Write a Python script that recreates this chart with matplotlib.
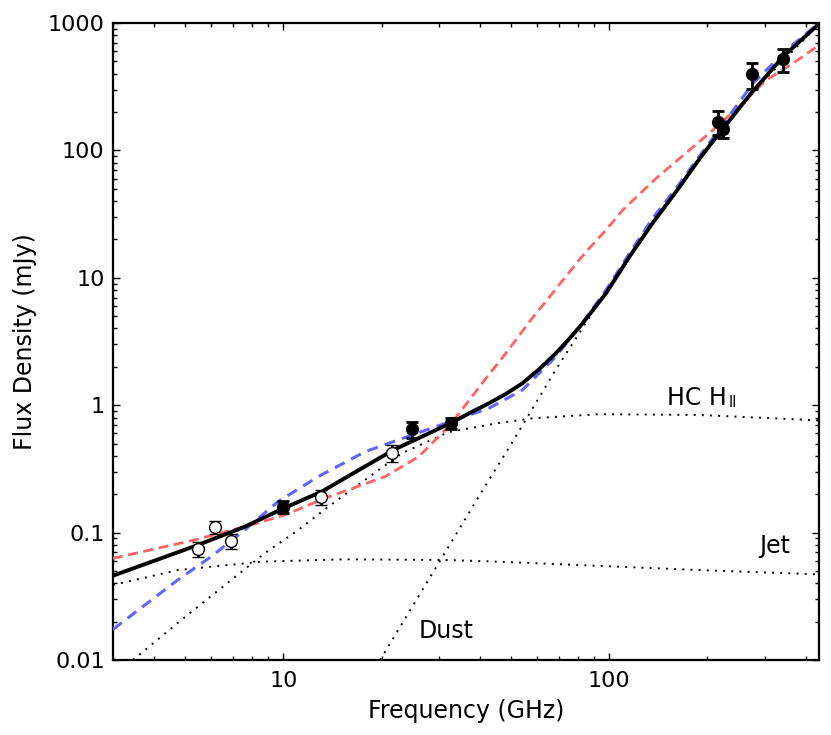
import matplotlib
matplotlib.use("Agg")
import matplotlib.pyplot as plt

# ---- data ----
freq_total = [3.0, 5.47, 7.60, 10.0, 13.09, 21.75, 32.5, 37.96, 42.7, 48.1, 54.1, 60.9, 68.5, 75.3,
              82.8, 97.7, 115.2, 135.9, 160.4, 189.2, 207.9, 269.6, 341.4, 440]
flux_total = [0.0459, 0.080, 0.111, 0.155, 0.2095, 0.445, 0.721, 0.889, 1.035, 1.224, 1.485, 1.914, 2.55, 3.31,
              4.39, 7.56, 14.6, 27.0, 47.5, 86.0, 117.8, 272, 544, 985]

freq_red = [3.0, 5.33, 7.97, 10.09, 13.4, 20.5, 26.0, 32.5, 40.7, 48.1, 57.4, 66.9, 80.8,
            86.8, 97.7, 109.9, 139.2, 176.2, 212.8, 251.2, 303.6, 366.4, 440]
flux_red = [0.0628, 0.0875, 0.1148, 0.1375, 0.186, 0.275, 0.394, 0.70, 1.485, 2.55, 4.66, 7.56, 13.8,
            17.05, 23.7, 34.0, 60.4, 100.7, 152, 224, 357, 483, 672]

freq_blue = [3.0, 4.74, 6.00, 7.60, 9.63, 12.79, 17.8, 24.8, 32.5, 42.7, 54.1, 68.5, 82.8, 97.7,
             115.2, 135.9, 160.4, 189.2, 207.9, 276, 349.7, 440]
flux_blue = [0.0174, 0.0425, 0.0647, 0.1047, 0.175, 0.275, 0.4315, 0.583, 0.743, 0.946, 1.316, 2.40, 4.45, 8.02,
             15.5, 29.4, 50.5, 90.4, 125, 336, 614, 1000]

freq_hchii = [3.455, 4.86, 6.92, 8.76, 11.1, 13.73, 17.8, 23.07, 32.1, 45.3, 58.1, 93.1, 189.2, 440]
flux_hchii = [0.01, 0.0206, 0.0425, 0.0688, 0.1047, 0.1596, 0.259, 0.419, 0.615, 0.721, 0.789, 0.85, 0.838, 0.76]

freq_jet = [3.0, 4.74, 8.56, 15.44, 31.3, 45.9, 189.2, 440]
flux_jet = [0.0388, 0.0508, 0.0591, 0.0617, 0.061, 0.0591, 0.0508, 0.047]

freq_dust = [19.8, 42.7, 49.8, 68.5, 108.6, 135.9, 189.2, 269.6, 440]
flux_dust = [0.01, 0.259, 0.487, 1.9, 11.9, 26.2, 85, 271, 980]

freq_open = [5.47, 6.17, 6.93, 13.06, 21.5]
flux_open = [0.0743, 0.111, 0.0859, 0.189, 0.424]
err_open = [0.0095, 0.0133, 0.0116, 0.0255, 0.064]

freq_fill = [10.0, 24.8, 32.6, 216, 224, 274, 341]
flux_fill = [0.16, 0.647, 0.721, 168, 146.5, 396, 519]
err_fill = [0.0177, 0.0925, 0.0675, 35, 20.5, 90, 105]

xticks = [10, 100]
xtick_labels = ["10", "100"]
yticks = [0.01, 0.1, 1, 10, 100, 1000]
ytick_labels = ["0.01", "0.1", "1", "10", "100", "1000"]

# ---- figure ----
plt.rcParams["font.family"] = ["DejaVu Sans"]
fig = plt.figure(figsize=(8.31, 7.35), dpi=100)
ax = fig.add_axes([113/831, 75/735, 706/831, 637/735])
ax.set_xscale("log")
ax.set_yscale("log")

dot = (0, (1, 3.2))
ax.plot(freq_hchii, flux_hchii, color="black", lw=1.4, linestyle=dot, zorder=2)
ax.plot(freq_jet, flux_jet, color="black", lw=1.4, linestyle=dot, zorder=2)
ax.plot(freq_dust, flux_dust, color="black", lw=1.4, linestyle=dot, zorder=2)

ax.plot(freq_red, flux_red, color="#ff6464", lw=2.0, dashes=(3.6, 2.0), zorder=3)
ax.plot(freq_blue, flux_blue, color="#6464ff", lw=2.2, dashes=(3.6, 2.4), zorder=3)
ax.plot(freq_total, flux_total, color="black", lw=2.8, zorder=4)

ax.errorbar(freq_open, flux_open, yerr=err_open, fmt="o", mfc="white", mec="black",
            mew=1.0, ms=8.5, ecolor="black", elinewidth=2, capsize=4.5, capthick=2, zorder=5)
ax.errorbar(freq_fill, flux_fill, yerr=err_fill, fmt="o", mfc="black", mec="black",
            ms=8.5, ecolor="black", elinewidth=2, capsize=4.5, capthick=2, zorder=5)

ax.set_xlim(3, 440)
ax.set_ylim(0.01, 1000)
ax.set_xticks(xticks)
ax.set_xticklabels(xtick_labels)
ax.set_yticks(yticks)
ax.set_yticklabels(ytick_labels)
ax.tick_params(which="both", direction="in", top=True, right=True, labelsize=16)
ax.tick_params(which="major", length=5, width=1)
ax.tick_params(which="minor", length=3, width=1)
ax.tick_params(axis="x", which="major", pad=8)
ax.tick_params(axis="y", which="major", pad=6)
for s in ax.spines.values():
    s.set_linewidth(1.6)

ax.set_xlabel("Frequency (GHz)", fontsize=17, labelpad=6)
ax.set_ylabel("Flux Density (mJy)", fontsize=17, labelpad=8)

t = ax.text(150.7, 1.0, "HC H", fontsize=17, va="baseline", ha="left")
ax.annotate("II", xy=(1, 0), xycoords=t, xytext=(1, 0), textcoords="offset points",
            fontsize=10.5, va="bottom", ha="left")
ax.text(289, 0.0692, "Jet", fontsize=17, va="baseline", ha="left")
ax.text(26.0, 0.01496, "Dust", fontsize=17, va="baseline", ha="left")

fig.savefig("out.png", dpi=100, facecolor="white")
